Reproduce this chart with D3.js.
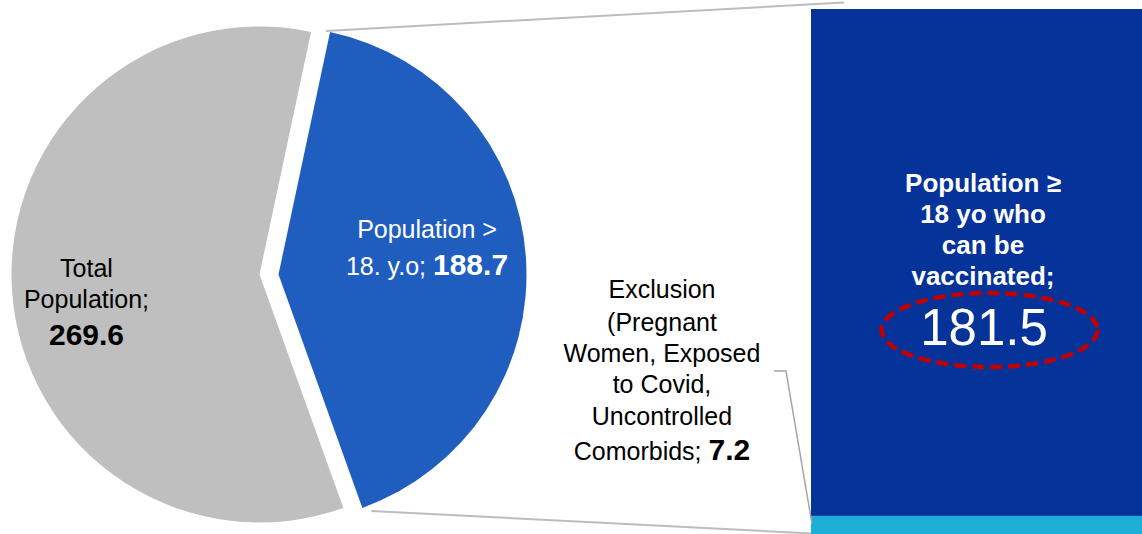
<!DOCTYPE html>
<html>
<head>
<meta charset="utf-8">
<script src="https://cdn.jsdelivr.net/npm/d3@7"></script>
<style>
  html, body { margin: 0; padding: 0; background: #fff; }
  svg { display: block; font-family: "Liberation Sans", Arial, sans-serif; }
</style>
</head>
<body>
<div id="chart"></div>
<script>
//Datos del gráfico
const pieNames = ['Population > 18. y.o', 'Total Population'];
const pieValues = [188.7, 269.6];
const barNames = ['Exclusion', 'Population ≥ 18 yo who can be vaccinated'];
const barValues = [7.2, 181.5];

//Colores fijos
const COLOR_GREY = '#BFBFBF',
COLOR_BLUE = '#1F5EBF',
COLOR_DARK = '#063399',
COLOR_CYAN = '#1BAED6',
COLOR_RED = '#C00000',
COLOR_LINE = '#BDBDBD';

let width = 1142, height = 534;

let svg = d3.select('#chart')
    .append('svg')
      .attr('width', width)
      .attr('height', height);

//Pie
let cx = 259.5, cy = 274.5, radius = 248;
let explode = 19;

let pie = d3.pie()
    .sort(null)
    .startAngle(12 * Math.PI / 180)
    .endAngle(12 * Math.PI / 180 + 2 * Math.PI);

let arcs = pie(pieValues);
let arc = d3.arc().innerRadius(0).outerRadius(radius);

let pieG = svg.append('g')
    .attr('transform', 'translate(' + cx + ',' + cy + ')');

pieG.selectAll('path')
    .data(arcs)
    .enter()
    .append('path')
      .attr('d', arc)
      .attr('fill', function(d, i) { return i == 0 ? COLOR_BLUE : COLOR_GREY; })
      .attr('transform', function(d, i) { return i == 0 ? 'translate(' + explode + ',0)' : null; });

//Barra
let barX0 = 811, barX1 = 1150;
let y = d3.scaleLinear()
    .domain([0, d3.sum(barValues)])
    .range([536, 9]);

let cum = 0;
let stacked = barValues.map(function(v) { let s = { y0: cum, y1: cum + v }; cum += v; return s; });

svg.selectAll('rect.bar')
    .data(stacked)
    .enter()
    .append('rect')
      .attr('class', 'bar')
      .attr('x', barX0)
      .attr('width', barX1 - barX0)
      .attr('y', function(d) { return y(d.y1); })
      .attr('height', function(d) { return y(d.y0) - y(d.y1); })
      .attr('fill', function(d, i) { return i == 0 ? COLOR_CYAN : COLOR_DARK; });

//Líneas de conexión
let blue = arcs[0];
let topPt = [cx + explode + radius * Math.sin(blue.startAngle) - 4, cy - radius * Math.cos(blue.startAngle) - 1];
let botPt = [cx + explode + radius * Math.sin(blue.endAngle) + 9, cy - radius * Math.cos(blue.endAngle) + 3];

svg.append('line')
    .attr('x1', topPt[0]).attr('y1', topPt[1])
    .attr('x2', 844).attr('y2', 2.5)
    .attr('stroke', COLOR_LINE).attr('stroke-width', 2);

svg.append('line')
    .attr('x1', botPt[0]).attr('y1', botPt[1])
    .attr('x2', barX0).attr('y2', y(0) - 2.5)
    .attr('stroke', COLOR_LINE).attr('stroke-width', 2);

//Línea guía de la etiqueta de exclusión
svg.append('polyline')
    .attr('points', [[774, 371], [786, 371], [812, 524]].map(function(p) { return p.join(','); }).join(' '))
    .attr('fill', 'none')
    .attr('stroke', '#A6A6A6')
    .attr('stroke-width', 1.5);

//Etiquetas
function addLabel(x, lines, color, weight, size) {
    let t = svg.append('text')
        .attr('text-anchor', 'middle')
        .attr('fill', color)
        .attr('font-size', size || 25)
        .attr('font-weight', weight || 'normal');
    lines.forEach(function(l) {
        let ts = t.append('tspan').attr('x', x).attr('y', l.y);
        ts.append('tspan').text(l.text);
        if (l.num) {
            ts.append('tspan').attr('font-weight', 'bold').attr('font-size', 30).text(l.num);
        }
    });
    return t;
}

let totalWords = pieNames[1].split(' ');

addLabel(86.5, [
    { y: 277, text: totalWords[0] },
    { y: 308, text: totalWords[1] + ';' },
    { y: 345, text: '', num: d3.format('.1f')(pieValues[1]) }
], '#000');

addLabel(427, [
    { y: 238, text: 'Population >' },
    { y: 275, text: '18. y.o; ', num: d3.format('.1f')(pieValues[0]) }
], '#fff');

addLabel(662, [
    { y: 298, text: barNames[0] },
    { y: 331, text: '(Pregnant' },
    { y: 362, text: 'Women, Exposed' },
    { y: 393, text: 'to Covid,' },
    { y: 425, text: 'Uncontrolled' },
    { y: 460, text: 'Comorbids; ', num: d3.format('.1f')(barValues[0]) }
], '#000');

addLabel(983, [
    { y: 192, text: 'Population ≥' },
    { y: 223, text: '18 yo who' },
    { y: 254, text: 'can be' },
    { y: 285, text: 'vaccinated;' }
], '#fff', 'bold', 26);

svg.append('text')
    .attr('x', 984)
    .attr('y', 345)
    .attr('text-anchor', 'middle')
    .attr('fill', '#fff')
    .attr('font-size', 51)
    .text(d3.format('.1f')(barValues[1]));

//Elipse roja discontinua
svg.append('ellipse')
    .attr('cx', 989.5)
    .attr('cy', 330)
    .attr('rx', 108)
    .attr('ry', 37)
    .attr('fill', 'none')
    .attr('stroke', COLOR_RED)
    .attr('stroke-width', 4.5)
    .attr('stroke-dasharray', '12,6');
</script>
</body>
</html>
